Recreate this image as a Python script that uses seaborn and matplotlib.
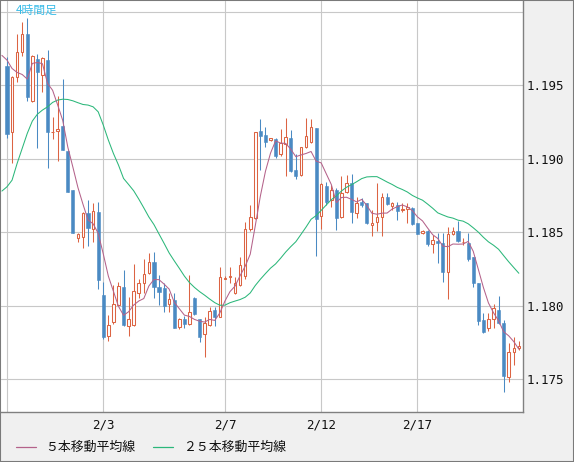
import numpy as np
import pandas as pd
import matplotlib
matplotlib.use('Agg')
import matplotlib.pyplot as plt
import seaborn as sns
from matplotlib.lines import Line2D
from matplotlib.patches import Rectangle

# 4-hour candles (bar index 0..101)
opens = [1.19633, 1.19184, 1.19554, 1.19724, 1.19849, 1.19393, 1.19679, 1.19570, 1.19672, 1.19180,
         1.19193, 1.19223, 1.19055, 1.18788, 1.18465, 1.18470, 1.18629, 1.18520, 1.18640, 1.18073,
         1.17796, 1.17887, 1.18009, 1.18125, 1.17865, 1.17870, 1.18085, 1.18153, 1.18221, 1.18296,
         1.18130, 1.18119, 1.18013, 1.18040, 1.17854, 1.17910, 1.17877, 1.18051, 1.17910, 1.17806,
         1.17870, 1.17972, 1.17926, 1.18183, 1.18199, 1.18085, 1.18142, 1.18200, 1.18520, 1.18596,
         1.19189, 1.19162, 1.19128, 1.19135, 1.19030, 1.19098, 1.19144, 1.18924, 1.18890, 1.19083,
         1.19112, 1.19212, 1.18613, 1.18815, 1.18720, 1.18788, 1.18602, 1.18772, 1.18833, 1.18629,
         1.18704, 1.18697, 1.18550, 1.18568, 1.18606, 1.18738, 1.18681, 1.18686, 1.18652, 1.18659,
         1.18668, 1.18566, 1.18493, 1.18509, 1.18418, 1.18443, 1.18430, 1.18232, 1.18486, 1.18509,
         1.18432, 1.18425, 1.18330, 1.18153, 1.17904, 1.17847, 1.17908, 1.17972, 1.17881, 1.17518,
         1.17684, 1.17711]
highs = [1.19695, 1.19563, 1.19849, 1.19933, 1.19960, 1.19706, 1.19713, 1.19695, 1.19740, 1.19286,
         1.19427, 1.19543, 1.19057, 1.18788, 1.18493, 1.18640, 1.18719, 1.18697, 1.18708, 1.18164,
         1.17941, 1.18141, 1.18164, 1.18243, 1.18062, 1.18285, 1.18180, 1.18319, 1.18357, 1.18364,
         1.18210, 1.18158, 1.18085, 1.18085, 1.17915, 1.17931, 1.18210, 1.18062, 1.17910, 1.17922,
         1.17994, 1.17994, 1.18267, 1.18203, 1.18267, 1.18199, 1.18330, 1.18572, 1.18686, 1.19185,
         1.19271, 1.19219, 1.19144, 1.19144, 1.19203, 1.19280, 1.19196, 1.19030, 1.19083, 1.19275,
         1.19271, 1.19212, 1.18833, 1.18844, 1.18822, 1.18805, 1.18885, 1.18890, 1.18897, 1.18743,
         1.18731, 1.18697, 1.18652, 1.18833, 1.18770, 1.18770, 1.18708, 1.18704, 1.18697, 1.18702,
         1.18675, 1.18566, 1.18516, 1.18516, 1.18482, 1.18493, 1.18493, 1.18534, 1.18539, 1.18579,
         1.18464, 1.18498, 1.18334, 1.18153, 1.17949, 1.17949, 1.18010, 1.18069, 1.17904, 1.17745,
         1.17790, 1.17763]
lows = [1.19143, 1.18973, 1.19524, 1.19701, 1.19395, 1.19384, 1.19071, 1.19456, 1.18939, 1.19132,
        1.18987, 1.19057, 1.18776, 1.18499, 1.18436, 1.18397, 1.18409, 1.18436, 1.18118, 1.17774,
        1.17762, 1.17880, 1.18005, 1.17864, 1.17797, 1.17863, 1.18051, 1.18085, 1.18214, 1.18051,
        1.18006, 1.17960, 1.17960, 1.17847, 1.17842, 1.17847, 1.17870, 1.17938, 1.17756, 1.17654,
        1.17863, 1.17863, 1.17922, 1.18180, 1.18153, 1.18081, 1.18135, 1.18180, 1.18510, 1.18590,
        1.18924, 1.19083, 1.19123, 1.19003, 1.19021, 1.18885, 1.18912, 1.18862, 1.18885, 1.19076,
        1.19105, 1.18341, 1.18522, 1.18686, 1.18674, 1.18516, 1.18597, 1.18765, 1.18561, 1.18595,
        1.18675, 1.18554, 1.18475, 1.18509, 1.18475, 1.18686, 1.18652, 1.18584, 1.18640, 1.18561,
        1.18550, 1.18489, 1.18489, 1.18407, 1.18357, 1.18289, 1.18160, 1.18046, 1.18482, 1.18432,
        1.18414, 1.18307, 1.18126, 1.17870, 1.17813, 1.17831, 1.17847, 1.17876, 1.17416, 1.17484,
        1.17597, 1.17700]
closes = [1.19166, 1.19558, 1.19724, 1.19849, 1.19418, 1.19699, 1.19588, 1.19683, 1.19180, 1.19184,
          1.19200, 1.19062, 1.18776, 1.18499, 1.18488, 1.18629, 1.18531, 1.18644, 1.18175, 1.17789,
          1.17873, 1.18016, 1.18132, 1.17869, 1.17910, 1.18101, 1.18153, 1.18217, 1.18296, 1.18130,
          1.18096, 1.18001, 1.18047, 1.17851, 1.17910, 1.17877, 1.17956, 1.17945, 1.17790, 1.17881,
          1.17967, 1.17922, 1.18199, 1.18192, 1.18205, 1.18153, 1.18278, 1.18520, 1.18602, 1.19180,
          1.19157, 1.19117, 1.19139, 1.19019, 1.19105, 1.19146, 1.18919, 1.18885, 1.19078, 1.19155,
          1.19214, 1.18590, 1.18826, 1.18708, 1.18788, 1.18600, 1.18765, 1.18833, 1.18636, 1.18702,
          1.18686, 1.18561, 1.18566, 1.18602, 1.18738, 1.18690, 1.18697, 1.18647, 1.18659, 1.18675,
          1.18557, 1.18489, 1.18509, 1.18418, 1.18448, 1.18430, 1.18228, 1.18489, 1.18509, 1.18441,
          1.18437, 1.18316, 1.18153, 1.17899, 1.17824, 1.17908, 1.17983, 1.17881, 1.17525, 1.17684,
          1.17711, 1.17727]

ma5_head = [1.19704, 1.19672, 1.19615, 1.19588, 1.19574]          # bars -1..3
ma25_head = [1.18781, 1.18810, 1.18855, 1.18969, 1.19071, 1.19173, 1.19257, 1.19304,
             1.19332, 1.19354, 1.19384, 1.19400, 1.19406, 1.19404, 1.19395, 1.19382,
             1.19370, 1.19366, 1.19354, 1.19320, 1.19230, 1.19128, 1.19037, 1.18958,
             1.18867]                                                # bars -1..23

date_ticks = [0, 19, 43, 62, 81]
date_labels = ['', '2/3', '2/7', '2/12', '2/17']
price_ticks = [1.175, 1.180, 1.185, 1.190, 1.195, 1.200]
price_labels = ['1.175', '1.180', '1.185', '1.190', '1.195', '']

UP = '#dc6443'
DOWN = '#4a8ac3'
MA5_COLOR = '#b4628a'
MA25_COLOR = '#2bb77a'
TITLE_COLOR = '#39bce8'

df = pd.DataFrame({'open': opens, 'high': highs, 'low': lows, 'close': closes})
df['bar'] = np.arange(len(df))

ma5 = df['close'].rolling(5).mean().to_numpy()
ma5[:4] = ma5_head[1:]
ma25 = df['close'].rolling(25).mean().to_numpy()
ma25[:24] = ma25_head[1:]
ma_df = pd.DataFrame({
    'bar': np.r_[-1, df['bar'].to_numpy()],
    'ma5': np.r_[ma5_head[0], ma5],
    'ma25': np.r_[ma25_head[0], ma25],
})

sns.set_style('white')
plt.rcParams['font.family'] = ['DejaVu Sans Mono', 'Noto Sans CJK JP']

fig = plt.figure(figsize=(5.74, 4.62), dpi=100, facecolor='#f0f0f0')
ax = fig.add_axes([1 / 574, 50 / 462, 522 / 574, 411 / 462])
ax.set_facecolor('white')

up = df[df['close'] >= df['open']]
down = df[df['close'] < df['open']]

# wicks
ax.vlines(up['bar'], up['low'], up['high'], color=UP, lw=0.75, zorder=3)
ax.vlines(down['bar'], down['low'], down['high'], color=DOWN, lw=0.75, zorder=3)

# bodies
up_h = (up['close'] - up['open']).clip(lower=0.00001)
ax.bar(up['bar'], up_h, bottom=up['open'], width=0.5, facecolor='white',
       edgecolor=UP, lw=0.75, zorder=4)
down_h = (down['open'] - down['close']).clip(lower=0.00004)
ax.bar(down['bar'], down_h, bottom=down['close'], width=0.62, facecolor=DOWN,
       edgecolor=DOWN, lw=0.4, zorder=4)

sns.lineplot(data=ma_df, x='bar', y='ma25', color=MA25_COLOR, lw=0.75, ax=ax, zorder=5)
sns.lineplot(data=ma_df, x='bar', y='ma5', color=MA5_COLOR, lw=0.75, ax=ax, zorder=6)

ax.set_xlim(-1.18, 101.82)
ax.set_ylim(1.17278, 1.20074)
ax.set_xticks(date_ticks)
ax.set_xticklabels(date_labels)
ax.set_yticks(price_ticks)
ax.set_yticklabels(price_labels)
ax.yaxis.tick_right()
ax.set_xlabel('')
ax.set_ylabel('')
ax.grid(True, color='#c8c8c8', lw=0.8, zorder=0)
ax.set_axisbelow(True)
ax.tick_params(axis='both', length=0, labelsize=9, colors='#111111')
ax.tick_params(axis='x', pad=5)
ax.tick_params(axis='y', pad=2.5)
for side in ['top', 'left']:
    ax.spines[side].set_visible(False)
for side in ['right', 'bottom']:
    ax.spines[side].set_color('#808080')
    ax.spines[side].set_linewidth(1.0)

ax.text(15 / 522, 1 - 9 / 411, '4時間足', transform=ax.transAxes, color=TITLE_COLOR,
        fontsize=8.5, family=['Noto Sans CJK JP'], va='center', ha='left', zorder=7)

# legend along the bottom
ly = 1 - 447 / 462
fig.add_artist(Line2D([16 / 574, 36 / 574], [ly, ly], color=MA5_COLOR, lw=0.9,
                      transform=fig.transFigure))
fig.text(45 / 574, ly, '５本移動平均線', family=['Noto Sans CJK JP'], fontsize=9.3,
         va='center', ha='left', color='#111111')
fig.add_artist(Line2D([153 / 574, 173 / 574], [ly, ly], color=MA25_COLOR, lw=0.9,
                      transform=fig.transFigure))
fig.text(183 / 574, ly, '２５本移動平均線', family=['Noto Sans CJK JP'], fontsize=9.3,
         va='center', ha='left', color='#111111')

fig.add_artist(Rectangle((0, 0), 1, 1, transform=fig.transFigure, fill=False,
                         edgecolor='#7a7a7a', lw=1.5))

fig.savefig('out.png', dpi=100, facecolor=fig.get_facecolor())
